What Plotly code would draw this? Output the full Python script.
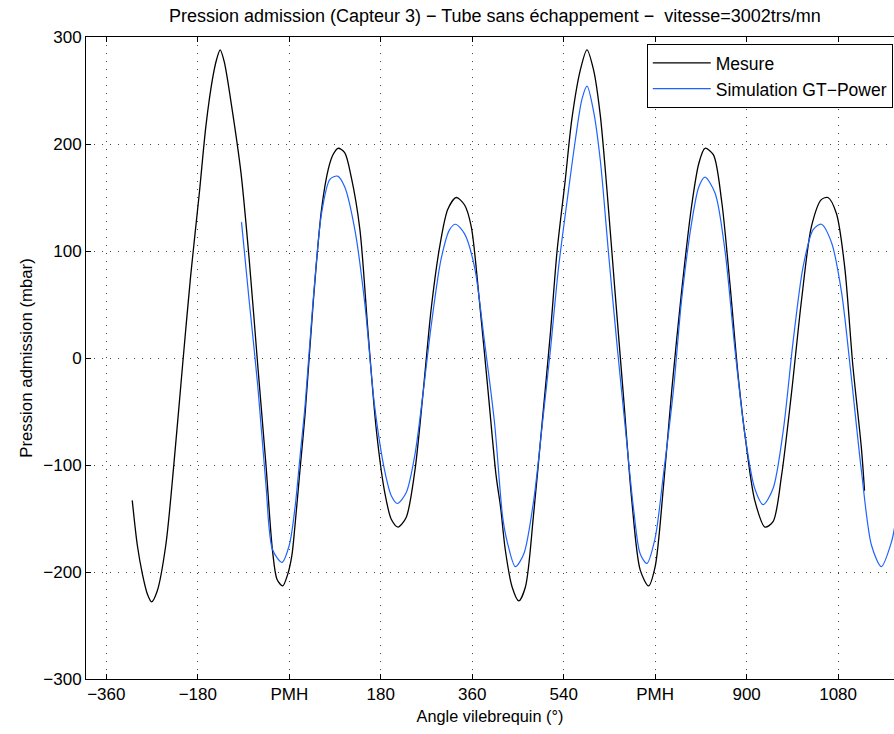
import plotly.graph_objects as go

# Crank angle (deg) and intake pressure (mbar) — measured signal, sensor 3
mesure_angle = [-309, -299, -289, -279, -271, -260, -243, -227, -210, -194, -177, -164,
                -151, -143, -136, -128, -112, -95, -79, -62, -46, -33, -24, -13, -3, 5,
                11, 21, 31, 47, 63.5, 77, 86, 96, 109, 122, 139, 155, 171.5, 188, 201,
                214, 230, 247, 263, 279.5, 296, 312, 328.6, 345, 358, 374, 391, 407, 416,
                425, 438.5, 451.6, 464.7, 481, 497.5, 514, 527, 543, 556, 572.7, 585.8,
                598.9, 612, 625, 641, 658, 674, 690.5, 707, 720, 736, 752.7, 772, 792,
                806, 818, 834.5, 851, 867, 883.6, 900, 916, 936, 952, 968.7, 988, 1008,
                1027.6, 1047, 1060, 1076.7, 1093, 1109, 1125.8, 1132]
mesure_p = [-133, -175, -202, -221, -228, -218, -175, -99, -7, 77, 154, 217,
            261, 279, 288, 277, 231, 173, 93, -7, -99, -180, -207, -213, -202, -185,
            -158, -105, -53, 51, 139, 177, 190, 196, 192, 169, 120, 24, -68, -126, -151,
            -158, -149, -106, -34, 47, 104, 139, 150, 143, 123, 54, -30, -110, -140,
            -179, -214, -227, -214, -145, -61, 24, 100, 166, 223, 269, 288,
            269, 227, 158, 62, -38, -133, -198, -213, -195, -122, -30, 62, 143,
            182, 196, 190, 146, 70, -18, -84, -133, -158, -153, -110, -34, 54,
            123, 148, 150, 135, 85, -7, -84, -124]

# GT-Power simulation of the same intake pressure
simu_angle = [-94, -79, -62, -46, -33, -14.5, 0, 11, 21, 31, 47, 63.5, 80, 95, 109, 129,
              148.6, 168, 188, 201, 212.7, 230, 247, 263, 279.5, 299, 315.5, 327, 345,
              364.6, 384, 404, 420, 429, 445, 461.6, 481, 497.5, 514, 530, 546.5, 563,
              576, 586, 599, 612, 628.4, 645, 661, 677.5, 690.5, 703.6, 720, 736, 756,
              772, 792, 806, 818, 838, 857.5, 877, 896.7, 916, 932.7, 952, 972, 991.6,
              1011, 1031, 1047, 1067, 1086.6, 1106, 1126, 1145.7, 1165, 1185, 1192]
simu_p = [127, 54, -26, -118, -179, -191, -175, -141, -93, -45, 54, 135, 167, 170, 160, 120,
          51, -45, -106, -129, -136, -126, -91, -34, 31, 93, 120, 125, 116,
          85, 16, -61, -149, -172, -195, -183, -133, -64, 8, 85, 146, 204,
          242, 254, 230, 185, 97, 12, -64, -141, -183, -192, -168, -110, -30,
          54, 127, 160, 169, 154, 100, 8, -72, -122, -137, -122, -68, 16,
          85, 120, 125, 108, 62, -18, -106, -175, -195, -172, -156]

x_tickvals = [-360, -180, 0, 180, 360, 540, 720, 900, 1080]
x_ticktext = ["\u2212360", "\u2212180", "PMH", "180", "360", "540", "PMH", "900", "1080"]
y_tickvals = [-300, -200, -100, 0, 100, 200, 300]
y_ticktext = ["\u2212300", "\u2212200", "\u2212100", "0", "100", "200", "300"]

FONT = "Liberation Sans, Arial, Helvetica, sans-serif"

fig = go.Figure()
fig.add_trace(go.Scatter(
    x=mesure_angle, y=mesure_p, mode="lines", name="Mesure",
    line=dict(color="#000000", width=1.3, shape="spline", smoothing=0.8),
))
fig.add_trace(go.Scatter(
    x=simu_angle, y=simu_p, mode="lines", name="Simulation GT\u2212Power",
    line=dict(color="#1f63ff", width=1.2, shape="spline", smoothing=0.8),
))

axis_common = dict(
    showline=True, linecolor="black", linewidth=1,
    ticks="inside", ticklen=5, tickcolor="black", tickwidth=1,
    showgrid=True, gridcolor="#444444", gridwidth=1, griddash="1px,7px",
    zeroline=False,
    tickfont=dict(family=FONT, size=17, color="black"),
)

fig.update_layout(
    width=894, height=734,
    margin=dict(l=86, r=0, t=37, b=55),
    paper_bgcolor="white", plot_bgcolor="white",
    font=dict(family=FONT, size=17, color="black"),
    title=dict(
        text="Pression admission (Capteur 3) \u2212 Tube sans \u00e9chappement \u2212  vitesse=3002trs/mn",
        x=0.506, xref="paper", xanchor="center",
        y=0.978, yref="container", yanchor="middle",
        font=dict(family=FONT, size=18, color="black"),
    ),
    xaxis=dict(
        range=[-400, 1190],
        tickmode="array", tickvals=x_tickvals, ticktext=x_ticktext,
        mirror="ticks",
        title=dict(text="Angle vilebrequin (\u00b0)", standoff=7,
                   font=dict(family=FONT, size=16.3)),
        **axis_common,
    ),
    yaxis=dict(
        range=[-300, 300],
        tickmode="array", tickvals=y_tickvals, ticktext=y_ticktext,
        mirror=False,
        title=dict(text="Pression admission (mbar)", standoff=6,
                   font=dict(family=FONT, size=16.8)),
        **axis_common,
    ),
    legend=dict(
        x=0.9985, xanchor="right", y=0.989, yanchor="top",
        bgcolor="white", bordercolor="black", borderwidth=1,
        font=dict(family=FONT, size=17.5, color="black"),
        itemwidth=58, tracegroupgap=0,
    ),
    showlegend=True,
)

fig.write_html("out.html")
